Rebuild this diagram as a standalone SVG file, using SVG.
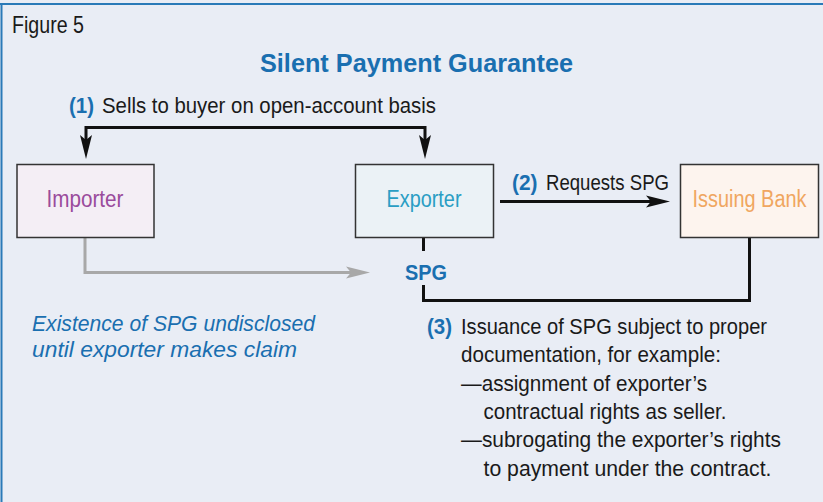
<svg xmlns="http://www.w3.org/2000/svg" width="823" height="502" viewBox="0 0 823 502">
  <defs>
    <style>
      .sans { font-family: "Liberation Sans", Arial, sans-serif; }
      .body { font-family: "Liberation Sans", Arial, sans-serif; font-size: 22.5px; fill: #1a1a1a; }
      .num { font-weight: bold; fill: #1a6fb0; }
      .box { stroke: #333333; stroke-width: 1.5; }
      .wire { fill: none; stroke: #111111; stroke-width: 3; }
      .ghost { fill: none; stroke: #a8a8a8; stroke-width: 3; }
      .label { font-family: "Liberation Sans", Arial, sans-serif; font-size: 23px; text-anchor: middle; }
    </style>
    <marker id="head" markerUnits="userSpaceOnUse" markerWidth="24" markerHeight="12" refX="5" refY="6" orient="auto-start-reverse" overflow="visible">
      <path d="M0,0 L24,6 L0,12 L5,6 z" fill="#111111"/>
    </marker>
    <marker id="headGray" markerUnits="userSpaceOnUse" markerWidth="24" markerHeight="12" refX="5" refY="6" orient="auto" overflow="visible">
      <path d="M0,0 L24,6 L0,12 L5,6 z" fill="#a8a8a8"/>
    </marker>
  </defs>

  <!-- panel background and frame -->
  <rect x="0" y="0" width="823" height="502" fill="#e9edf5"/>
  <line x1="0" y1="4" x2="823" y2="4" stroke="#2a7ab8" stroke-width="2"/>
  <line x1="1.5" y1="4" x2="1.5" y2="502" stroke="#2a7ab8" stroke-width="2"/>

  <text class="sans" x="12" y="33" font-size="24" fill="#1a1a1a" textLength="72" lengthAdjust="spacingAndGlyphs">Figure 5</text>
  <text class="sans" x="260" y="72" font-size="25" font-weight="bold" fill="#1a6fb0" textLength="313" lengthAdjust="spacingAndGlyphs">Silent Payment Guarantee</text>

  <!-- connectors -->
  <g id="connectors">
    <path class="wire" d="M86,140 V127.5 H425 V140" marker-start="url(#head)" marker-end="url(#head)"/>
    <path class="wire" d="M500,201.5 H651" marker-end="url(#head)"/>
    <path class="ghost" d="M85,237.5 V272.5 H351" marker-end="url(#headGray)"/>
    <path class="wire" d="M423.5,237.5 V251"/>
    <path class="wire" d="M423.5,285 V300.5 H749.5 V237.5"/>
    <text class="body num" x="69" y="113" textLength="25" lengthAdjust="spacingAndGlyphs">(1)</text>
    <text class="body" x="102" y="113" textLength="334" lengthAdjust="spacingAndGlyphs">Sells to buyer on open-account basis</text>
    <text class="body num" x="512" y="190" textLength="25.5" lengthAdjust="spacingAndGlyphs">(2)</text>
    <text class="body" x="546" y="190" textLength="123" lengthAdjust="spacingAndGlyphs">Requests SPG</text>
    <text class="sans" x="405" y="279.5" font-size="22" font-weight="bold" fill="#1a6fb0" textLength="42" lengthAdjust="spacingAndGlyphs">SPG</text>
  </g>

  <!-- nodes -->
  <g id="importer">
    <rect class="box" x="17" y="164.5" width="137" height="73" fill="#f4eef5"/>
    <text class="label" x="85" y="206.5" fill="#9a4b9c" textLength="77" lengthAdjust="spacingAndGlyphs">Importer</text>
  </g>
  <g id="exporter">
    <rect class="box" x="355.5" y="164.5" width="138" height="73" fill="#ebf2f6"/>
    <text class="label" x="424" y="206.5" fill="#2a9ec4" textLength="75" lengthAdjust="spacingAndGlyphs">Exporter</text>
  </g>
  <g id="issuing-bank">
    <rect class="box" x="680.5" y="164.5" width="138" height="73" fill="#fdf4ee"/>
    <text class="label" x="749.5" y="207" fill="#f0a660" textLength="114" lengthAdjust="spacingAndGlyphs">Issuing Bank</text>
  </g>

  <!-- notes -->
  <g id="note-undisclosed" class="sans" font-size="22.5" font-style="italic" fill="#1a6fb0">
    <text x="32" y="331" textLength="283" lengthAdjust="spacingAndGlyphs">Existence of SPG undisclosed</text>
    <text x="32" y="357" textLength="265" lengthAdjust="spacingAndGlyphs">until exporter makes claim</text>
  </g>

  <g id="note-issuance" class="body">
    <text x="427" y="333.5" class="num" textLength="25" lengthAdjust="spacingAndGlyphs">(3)</text>
    <text x="461" y="333.5" textLength="306" lengthAdjust="spacingAndGlyphs">Issuance of SPG subject to proper</text>
    <text x="461" y="362" textLength="260" lengthAdjust="spacingAndGlyphs">documentation, for example:</text>
    <text x="461" y="390.5" textLength="246" lengthAdjust="spacingAndGlyphs">—assignment of exporter’s</text>
    <text x="483.5" y="419" textLength="243" lengthAdjust="spacingAndGlyphs">contractual rights as seller.</text>
    <text x="461" y="447" textLength="320" lengthAdjust="spacingAndGlyphs">—subrogating the exporter’s rights</text>
    <text x="483.5" y="475.5" textLength="288" lengthAdjust="spacingAndGlyphs">to payment under the contract.</text>
  </g>
</svg>
